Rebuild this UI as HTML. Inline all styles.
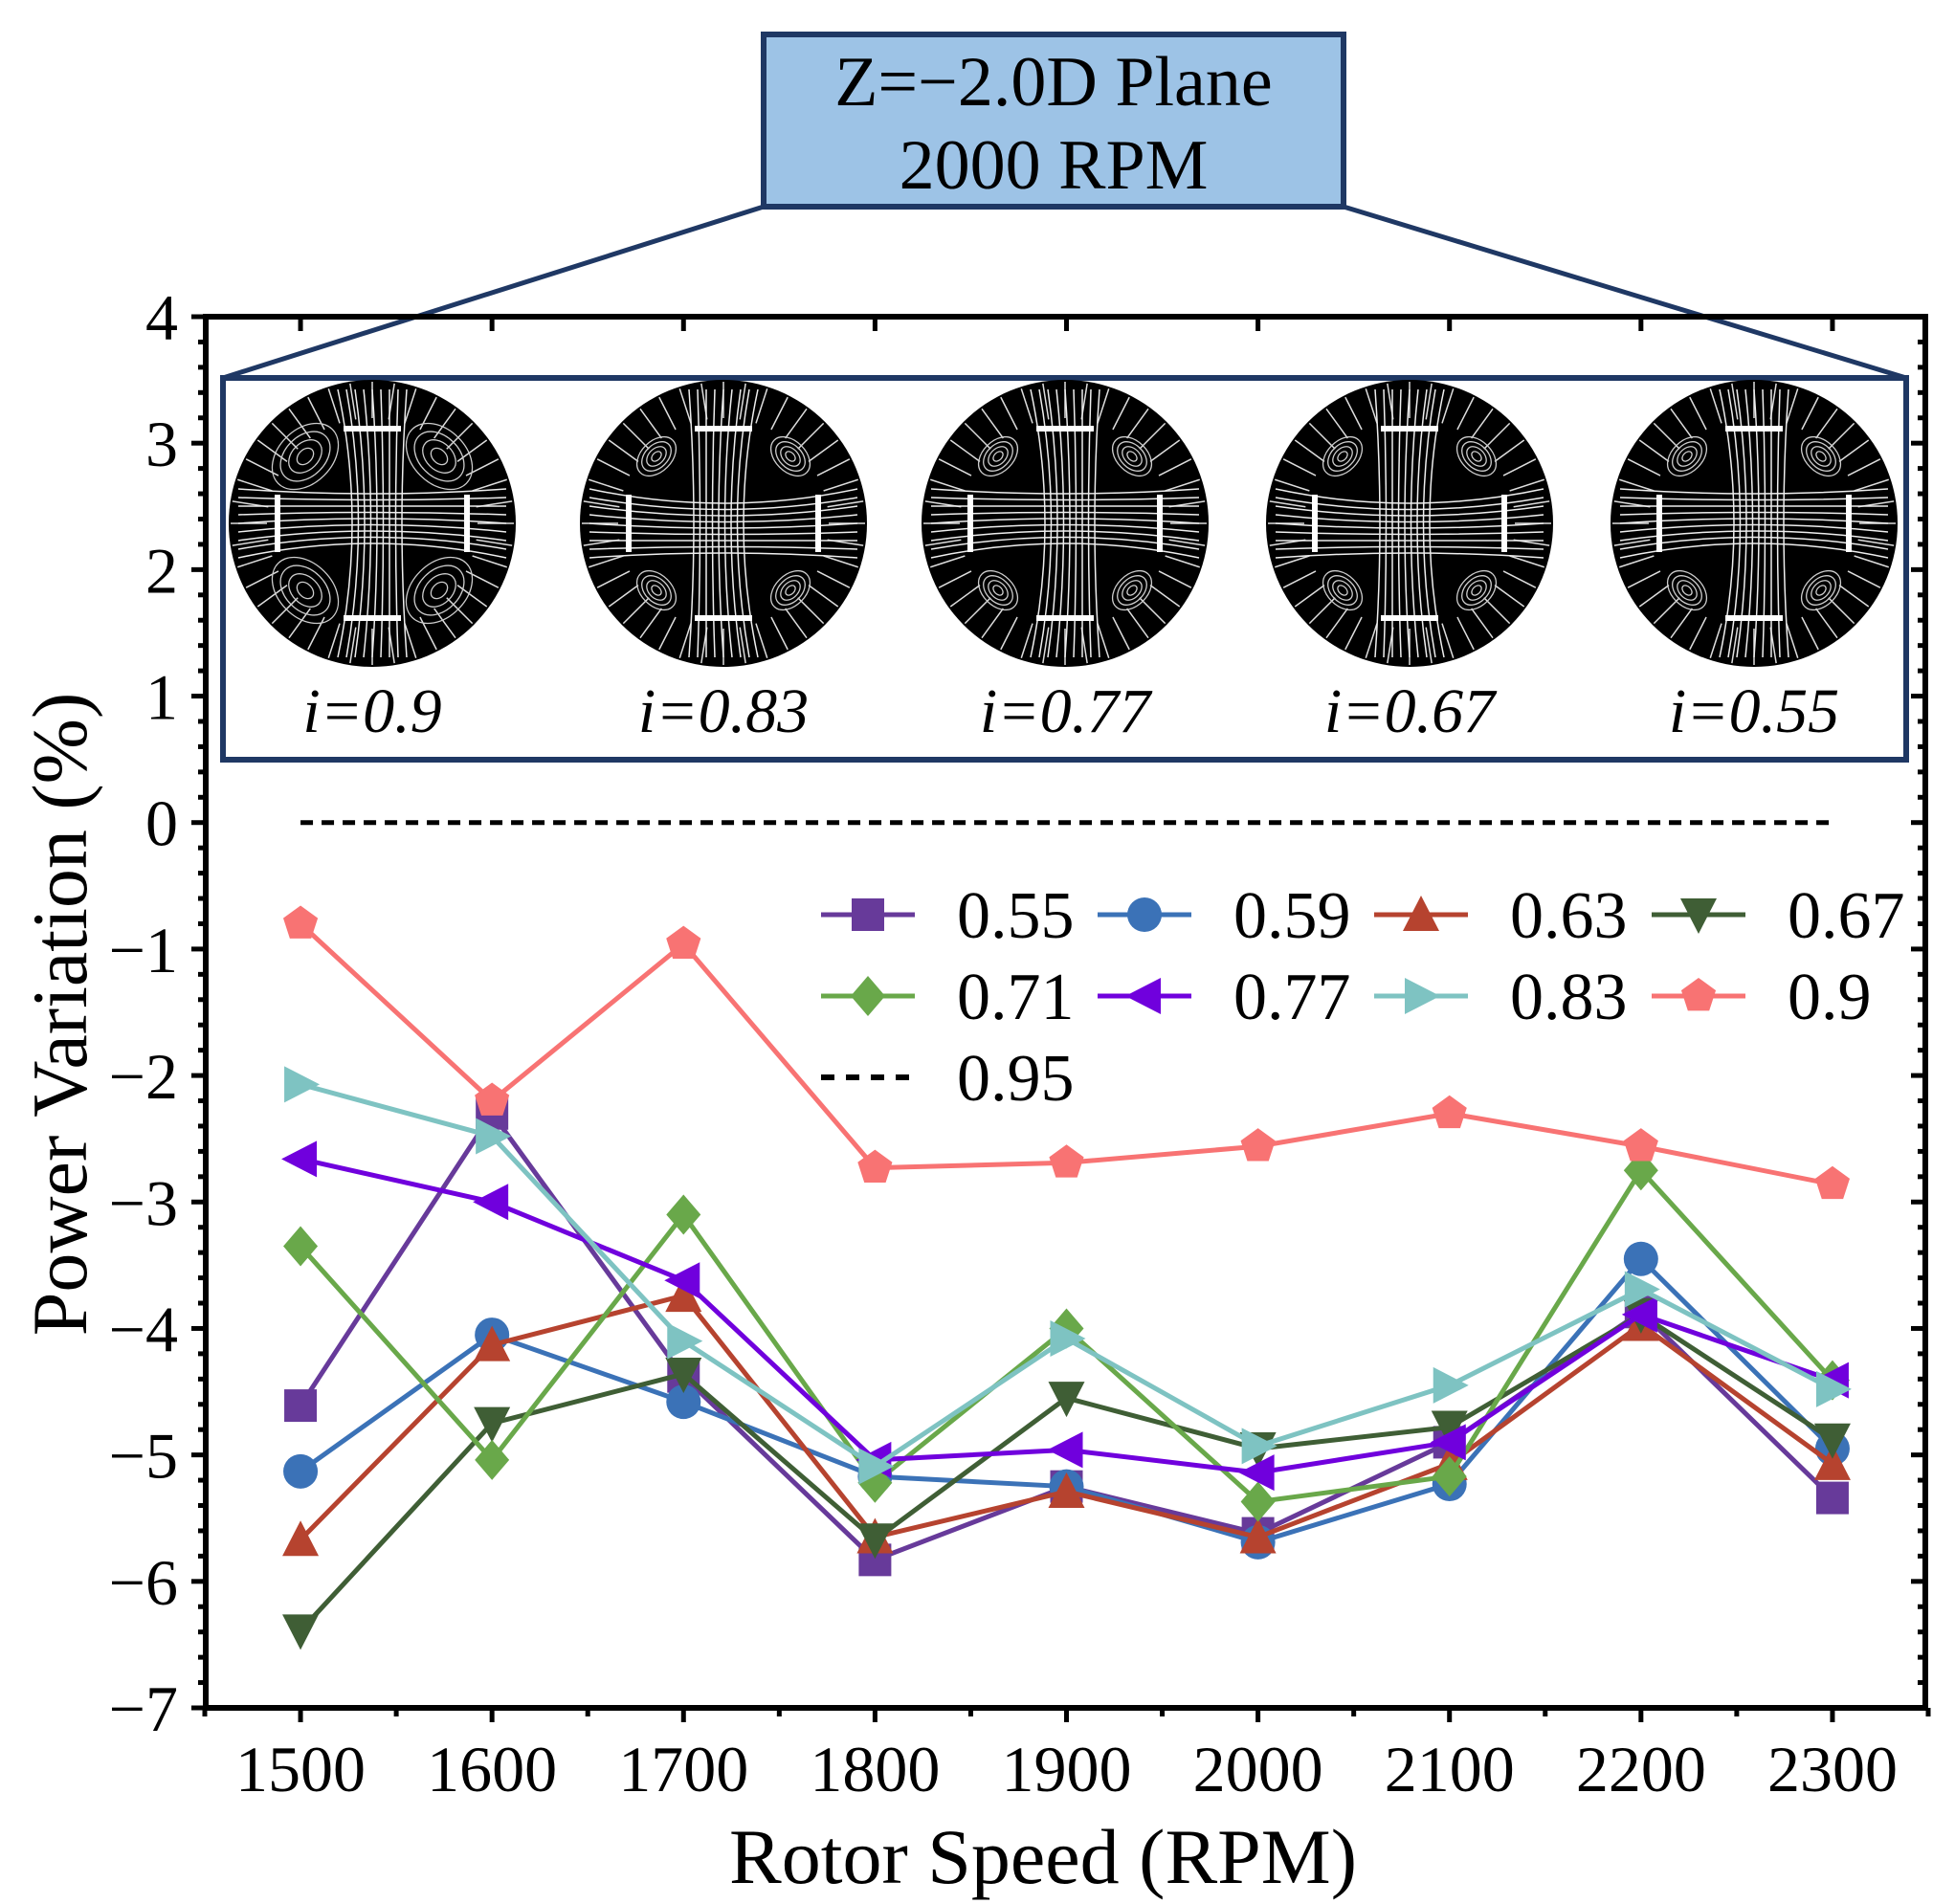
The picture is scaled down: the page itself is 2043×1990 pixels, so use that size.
<!DOCTYPE html>
<html><head><meta charset="utf-8"><style>
html,body{margin:0;padding:0;background:#fff;}
svg{display:block;font-family:"Liberation Serif",serif;}
</style></head><body>
<svg id="chart" width="2043" height="1990" viewBox="0 0 2043 1990" xmlns="http://www.w3.org/2000/svg">
<g id="inset">
<line x1="798" y1="216" x2="233" y2="395" stroke="#1f3864" stroke-width="5"/>
<line x1="1404" y1="216" x2="1992" y2="395" stroke="#1f3864" stroke-width="5"/>
<rect x="798" y="36" width="606" height="180" fill="#9dc3e6" stroke="#1f3864" stroke-width="6"/>
<text x="1101" y="110" font-size="74" text-anchor="middle">Z=−2.0D Plane</text>
<text x="1101" y="197" font-size="74" text-anchor="middle">2000 RPM</text>
</g>
</svg>
<script>
const svg=document.getElementById('chart');
const NS='http://www.w3.org/2000/svg';
const rpm=[1500,1600,1700,1800,1900,2000,2100,2200,2300];
const yTicks=[4,3,2,1,0,-1,-2,-3,-4,-5,-6,-7];
const s055=[-4.61,-2.30,-4.38,-5.83,-5.25,-5.62,-4.90,-3.87,-5.34];
const s059=[-5.13,-4.05,-4.58,-5.17,-5.25,-5.69,-5.23,-3.45,-4.95];
const s063=[-5.67,-4.13,-3.74,-5.65,-5.29,-5.65,-5.07,-3.97,-5.07];
const s067=[-6.39,-4.75,-4.36,-5.67,-4.55,-4.95,-4.78,-3.89,-4.88];
const s071=[-3.35,-5.04,-3.10,-5.22,-4.00,-5.37,-5.17,-2.75,-4.41];
const s077=[-2.66,-3.00,-3.62,-5.04,-4.96,-5.14,-4.90,-3.89,-4.41];
const s083=[-2.07,-2.48,-4.10,-5.09,-4.08,-4.93,-4.45,-3.69,-4.48];
const s090=[-0.80,-2.20,-0.96,-2.73,-2.69,-2.56,-2.30,-2.56,-2.86];
const s095=[0,0,0,0,0,0,0,0,0];
const inletLabels=['i=0.9','i=0.83','i=0.77','i=0.67','i=0.55'];

const L=215,R=2012,T=331,B=1785;
const xMin=1450.5,xMax=2348.5,yMin=-7,yMax=4;
const X=v=>L+(v-xMin)/(xMax-xMin)*(R-L);
const Y=v=>B-(v-yMin)/(yMax-yMin)*(B-T);
function el(tag,attrs,parent){const e=document.createElementNS(NS,tag);for(const k in attrs)e.setAttribute(k,attrs[k]);(parent||svg).appendChild(e);return e;}

const inset=document.getElementById('inset');
const box=el('rect',{x:233,y:395,width:1759,height:399,fill:'none',stroke:'#1f3864','stroke-width':6},inset);


const cx=[389,756,1113,1473,1833];
cx.forEach((c,i)=>{
  const g=el('g',{},inset);
  
  
  el('circle',{cx:c,cy:547,r:150,fill:'#000'},g);
  for(let a=0;a<360;a+=9){const r1=110,r2=148,t=a*Math.PI/180;
    el('line',{x1:c+r1*Math.cos(t),y1:547+r1*Math.sin(t),x2:c+r2*Math.cos(t),y2:547+r2*Math.sin(t),stroke:'#ddd','stroke-width':1.5},g);}
  for(let k=-4;k<=4;k++){
    el('path',{d:`M${c-140} ${547+k*9} Q${c} ${547+k*4+(i%2?10:-10)} ${c+140} ${547+k*9}`,fill:'none',stroke:'#eee','stroke-width':1.5},g);
    el('path',{d:`M${c+k*9} ${407} Q${c+k*4+(i%2?-10:10)} 547 ${c+k*9} ${687}`,fill:'none',stroke:'#eee','stroke-width':1.5},g);
  }
  [[-70,-70],[70,-70],[-70,70],[70,70]].forEach(([dx,dy],j)=>{
    for(let q=1;q<=4;q++) el('ellipse',{cx:c+dx,cy:547+dy,rx:(i===0?10:6)*q,ry:(i===0?7:4)*q,fill:'none',stroke:'#ccc','stroke-width':1.3,transform:`rotate(${j%3?45:-45} ${c+dx} ${547+dy})`},g);
  });
  el('rect',{x:c-30,y:445,width:60,height:6,fill:'#fff'},g);
  el('rect',{x:c-30,y:643,width:60,height:6,fill:'#fff'},g);
  el('rect',{x:c-102,y:517,width:6,height:60,fill:'#fff'},g);
  el('rect',{x:c+96,y:517,width:6,height:60,fill:'#fff'},g);
  const t=el('text',{x:c,y:765,'font-size':66,'font-style':'italic','text-anchor':'middle'},inset);
  t.textContent=inletLabels[i];
  
  
});

const ax=el('g',{});


el('rect',{x:L,y:T,width:R-L,height:B-T,fill:'none',stroke:'#000','stroke-width':6},ax);
for(let v=yMin;v<=yMax+1e-9;v+=0.2){
  const vv=Math.round(v*10)/10, major=Math.abs(vv-Math.round(vv))<1e-6;
  const y=Y(vv);
  el('line',{x1:L-(major?15:8),y1:y,x2:L,y2:y,stroke:'#000','stroke-width':5},ax);
  el('line',{x1:R,y1:y,x2:R-(major?15:8),y2:y,stroke:'#000','stroke-width':5},ax);
}
yTicks.forEach(v=>{
  const t=el('text',{x:186,y:Y(v)+24,'font-size':68,'text-anchor':'end'},ax);
  t.textContent=(v<0?'−':'')+Math.abs(v);
  
  
});
for(let v=1450;v<=2350;v+=50){
  const major=v%100===0,x=X(v);
  el('line',{x1:x,y1:B,x2:x,y2:B+(major?15:9),stroke:'#000','stroke-width':5},ax);
  if(major) el('line',{x1:x,y1:T,x2:x,y2:T+15,stroke:'#000','stroke-width':5},ax);
}
rpm.forEach(v=>{
  const t=el('text',{x:X(v),y:1872,'font-size':68,'text-anchor':'middle'},ax);
  t.textContent=v;
  
  
});
const xt=el('text',{x:1090,y:1968,'font-size':82,'text-anchor':'middle'});
xt.textContent='Rotor Speed (RPM)';


const yt=el('text',{x:0,y:0,'font-size':82,'text-anchor':'middle',transform:'translate(90 1060) rotate(-90)'});
yt.textContent='Power Variation (%)';



function marker(shape,x,y,color,parent){
  const s=17;
  if(shape==='square') return el('rect',{x:x-s,y:y-s,width:2*s,height:2*s,fill:color},parent);
  if(shape==='circle') return el('circle',{cx:x,cy:y,r:s+1,fill:color},parent);
  let pts;
  if(shape==='up') pts=[[0,-s-3],[s+2,s],[-s-2,s]];
  if(shape==='down') pts=[[0,s+3],[s+2,-s],[-s-2,-s]];
  if(shape==='left') pts=[[-s-3,0],[s,-s-2],[s,s+2]];
  if(shape==='right') pts=[[s+3,0],[-s,-s-2],[-s,s+2]];
  if(shape==='diamond') pts=[[0,-s-4],[s+1,0],[0,s+4],[-s-1,0]];
  if(shape==='pentagon'){pts=[];for(let k=0;k<5;k++){const a=-Math.PI/2+k*2*Math.PI/5;pts.push([(s+2)*Math.cos(a),(s+2)*Math.sin(a)]);}}
  return el('polygon',{points:pts.map(p=>(x+p[0])+','+(y+p[1])).join(' '),fill:color},parent);
}
const series=[
  {name:'0.55',vals:s055,color:'#673a9a',shape:'square'},
  {name:'0.59',vals:s059,color:'#3b72b7',shape:'circle'},
  {name:'0.63',vals:s063,color:'#b6432f',shape:'up'},
  {name:'0.67',vals:s067,color:'#3f5e35',shape:'down'},
  {name:'0.71',vals:s071,color:'#69a84a',shape:'diamond'},
  {name:'0.77',vals:s077,color:'#7000dd',shape:'left'},
  {name:'0.83',vals:s083,color:'#7ec3c2',shape:'right'},
  {name:'0.9',vals:s090,color:'#f87373',shape:'pentagon'}
];
const d=el('polyline',{points:rpm.map((r,i)=>X(r)+','+Y(s095[i])).join(' '),fill:'none',stroke:'#000','stroke-width':5,'stroke-dasharray':'13 9'});


series.forEach(s=>{
  const g=el('g',{});
  
  
  el('polyline',{points:rpm.map((r,i)=>X(r)+','+Y(s.vals[i])).join(' '),fill:'none',stroke:s.color,'stroke-width':5},g);
  rpm.forEach((r,i)=>{const m=marker(s.shape,X(r),Y(s.vals[i]),s.color,g);
    
    });
});
const lg=el('g',{});


const colX=[858,1147,1436,1726], rowY=[956,1041,1126];
series.forEach((s,i)=>{
  const cx0=colX[i%4], cy0=rowY[Math.floor(i/4)];
  const g=el('g',{},lg);
  
  
  el('line',{x1:cx0,y1:cy0,x2:cx0+98,y2:cy0,stroke:s.color,'stroke-width':5},g);
  marker(s.shape,cx0+49,cy0,s.color,g);
  const t=el('text',{x:cx0+142,y:cy0+24,'font-size':70},g);
  t.textContent=s.name;
});
const g95=el('g',{},lg);


el('line',{x1:858,y1:1126,x2:950,y2:1126,stroke:'#000','stroke-width':6,'stroke-dasharray':'14 12'},g95);
const t95=el('text',{x:1000,y:1150,'font-size':70},g95);
t95.textContent='0.95';
</script>
</body></html>
